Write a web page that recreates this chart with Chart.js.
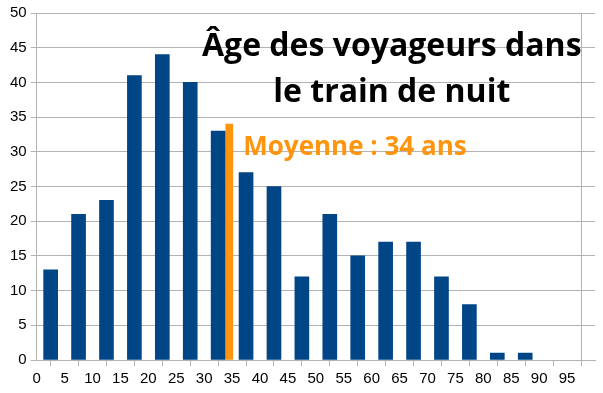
<!DOCTYPE html>
<html>
<head>
<meta charset="utf-8">
<script src="https://cdn.jsdelivr.net/npm/chart.js@4"></script>
<style>
  html, body { margin: 0; padding: 0; background: #fff; }
  #wrap { width: 603px; height: 393px; }
</style>
</head>
<body>
<div id="wrap"><canvas id="ageChart"></canvas></div>
<script>
// Age bins (centres of 5-year classes) and number of travellers
const binCentres = [2.5, 7.5, 12.5, 17.5, 22.5, 27.5, 32.5, 37.5, 42.5, 47.5,
                    52.5, 57.5, 62.5, 67.5, 72.5, 77.5, 82.5, 87.5];
const travellers = [13, 21, 23, 41, 44, 40, 33, 27, 25, 12,
                    21, 15, 17, 17, 12, 8, 1, 1];
const meanAge = [34.5];
const meanHeight = [34];
const titleLines = ['Âge des voyageurs dans', 'le train de nuit'];
const meanLabel = 'Moyenne : 34 ans';

const blue = '#004586';
const orange = '#ff950e';
const gridGray = '#b3b3b3';

const ctx = document.getElementById('ageChart').getContext('2d');

// Draws the title and the mean label inside the plot area
const textPlugin = {
    id: 'insideText',
    afterDatasetsDraw(chart) {
        const c = chart.ctx;
        const x = chart.scales.x;
        const y = chart.scales.y;
        c.save();
        c.textAlign = 'center';
        c.textBaseline = 'middle';
        c.fillStyle = '#000';
        c.font = 'bold 32px "Open Sans"';
        c.fillText(titleLines[0], x.getPixelForValue(63.6), y.getPixelForValue(45.1));
        c.fillText(titleLines[1], x.getPixelForValue(63.6), y.getPixelForValue(38.5));
        c.textAlign = 'left';
        c.fillStyle = orange;
        c.font = 'bold 26px "Open Sans"';
        c.fillText(meanLabel, x.getPixelForValue(37.0), y.getPixelForValue(30.6));
        c.restore();
    }
};

const ageChart = new Chart(ctx, {
    type: 'bar',
    data: {
        datasets: [{
            data: binCentres.map((v, i) => ({ x: v, y: travellers[i] })),
            backgroundColor: blue,
            barThickness: 14,
            grouped: false
        }, {
            data: meanAge.map((v, i) => ({ x: v, y: meanHeight[i] })),
            backgroundColor: orange,
            barThickness: 7,
            grouped: false
        }]
    },
    options: {
        responsive: true,
        maintainAspectRatio: false,
        animation: false,
        layout: { padding: { top: 6, right: 8, left: 6, bottom: 1 } },
        plugins: {
            legend: { display: false },
            tooltip: { enabled: false }
        },
        scales: {
            x: {
                type: 'linear',
                min: 0,
                max: 100,
                offset: false,
                ticks: {
                    stepSize: 5,
                    color: '#000',
                    font: { family: 'Liberation Sans', size: 15 },
                    maxRotation: 0,
                    autoSkip: false,
                    padding: 4,
                    callback: v => (v === 100 ? '' : v)
                },
                grid: {
                    color: c => (c.tick && c.tick.value === 100 ? gridGray : 'transparent'),
                    tickColor: gridGray,
                    tickLength: 6
                },
                border: { color: gridGray }
            },
            y: {
                min: 0,
                max: 50,
                ticks: {
                    stepSize: 5,
                    color: '#000',
                    font: { family: 'Liberation Sans', size: 15 },
                    padding: 4
                },
                grid: {
                    color: gridGray,
                    tickColor: gridGray,
                    tickLength: 6
                },
                border: { color: gridGray }
            }
        }
    },
    plugins: [textPlugin]
});
</script>
</body>
</html>
